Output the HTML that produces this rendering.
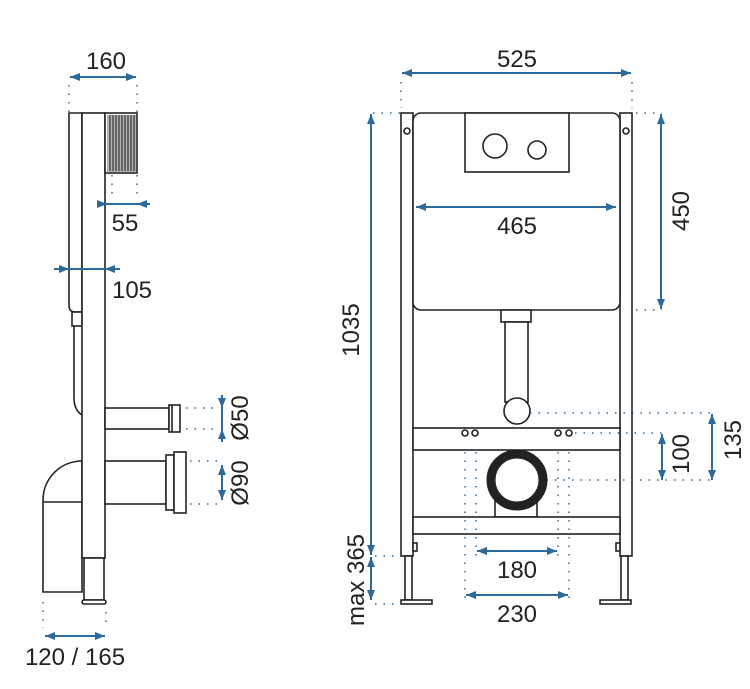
<!DOCTYPE html>
<html><head><meta charset="utf-8"><style>
html,body{margin:0;padding:0;background:#fff;}
svg{display:block;}
text{font-family:"Liberation Sans",sans-serif;fill:#222;}
</style></head><body>
<svg width="750" height="689" viewBox="0 0 750 689" xmlns="http://www.w3.org/2000/svg">
<defs>
<marker id="a" viewBox="0 0 10 10" refX="10" refY="5" markerWidth="5" markerHeight="5" orient="auto-start-reverse"><path d="M0,1 L10,5 L0,9 Z" fill="#2e6a99"/></marker>
</defs>
<!-- left view drawing -->
<g stroke="#222" stroke-width="1.6" fill="#fff">
<path d="M43,592 L43,500 A39,39 0 0 1 82,461 L82,592 Z"/>
<line x1="43" y1="502" x2="82" y2="502"/>
<path d="M69,113 L82,113 L82,312 L75,312 Q69,312 69,305 Z"/>
<rect x="72" y="312" width="10" height="14"/>
<path d="M74,326 L74,398 Q74,410 82,415" fill="none"/>
<rect x="82" y="113" width="23" height="445"/>
<rect x="84" y="558" width="20" height="42"/>
<rect x="82" y="600" width="24" height="4" rx="2"/>
<rect x="105" y="113" width="32" height="60"/>
<rect x="105" y="408" width="64" height="21"/>
<rect x="169" y="405" width="11" height="27"/>
<line x1="172" y1="405" x2="172" y2="432"/>
<rect x="105" y="461" width="61" height="43"/>
<rect x="166" y="455" width="8" height="55"/>
<rect x="174" y="452" width="12" height="61"/>
</g>
<rect x="107" y="115" width="29" height="57" fill="#555" opacity="0.45"/>
<g stroke="#333" stroke-width="1.2">
<line x1="110" y1="115" x2="110" y2="171"/><line x1="113" y1="115" x2="113" y2="171"/>
<line x1="116" y1="115" x2="116" y2="171"/><line x1="119" y1="115" x2="119" y2="171"/>
<line x1="122" y1="115" x2="122" y2="171"/><line x1="125" y1="115" x2="125" y2="171"/>
<line x1="128" y1="115" x2="128" y2="171"/><line x1="131" y1="115" x2="131" y2="171"/>
<line x1="134" y1="115" x2="134" y2="171"/>
</g>
<!-- right view drawing -->
<g stroke="#222" stroke-width="1.6" fill="#fff">
<rect x="401" y="113" width="12" height="443"/>
<rect x="620" y="113" width="12" height="443"/>
<rect x="405" y="556" width="7" height="44"/>
<rect x="621" y="556" width="7" height="44"/>
<rect x="401" y="600" width="31" height="4"/>
<rect x="600" y="600" width="31" height="4"/>
<rect x="413" y="543" width="4" height="8"/>
<rect x="616" y="543" width="4" height="8"/>
<circle cx="407" cy="131" r="3"/><circle cx="626" cy="131" r="3"/>
<rect x="413" y="113" width="207" height="197" rx="8"/>
<rect x="465" y="113" width="104" height="59"/>
<circle cx="495" cy="146" r="12"/><circle cx="537" cy="150" r="9"/>
<rect x="501" y="310" width="30" height="12"/>
<rect x="505" y="322" width="23" height="80"/>
<circle cx="517" cy="411" r="13"/>
<rect x="413" y="428" width="207" height="22"/>
<rect x="495" y="490" width="42" height="27"/>
<rect x="413" y="517" width="207" height="17"/>
<circle cx="465" cy="433" r="3"/><circle cx="475" cy="433" r="3"/>
<circle cx="558" cy="433" r="3"/><circle cx="569" cy="433" r="3"/>
</g>
<g stroke="#2e6a99" stroke-width="1.5" stroke-dasharray="1.5 7" fill="none">
<line x1="69" y1="85" x2="69" y2="112"/><line x1="137" y1="85" x2="137" y2="112"/>
<line x1="112" y1="175" x2="112" y2="200"/><line x1="137" y1="175" x2="137" y2="200"/>
<line x1="186" y1="408" x2="214" y2="408"/><line x1="186" y1="429" x2="214" y2="429"/>
<line x1="190" y1="461" x2="218" y2="461"/><line x1="190" y1="504" x2="218" y2="504"/>
<line x1="43" y1="602" x2="43" y2="628"/><line x1="106" y1="612" x2="106" y2="628"/>
<line x1="401" y1="82" x2="401" y2="108"/><line x1="632" y1="82" x2="632" y2="108"/>
<line x1="373" y1="113" x2="400" y2="113"/>
<line x1="636" y1="113" x2="662" y2="113"/><line x1="636" y1="310" x2="662" y2="310"/>
<line x1="530" y1="413" x2="715" y2="413"/>
<line x1="575" y1="433" x2="662" y2="433"/>
<line x1="538" y1="480" x2="715" y2="480"/>
<line x1="375" y1="556" x2="400" y2="556"/><line x1="375" y1="604" x2="400" y2="604"/>
<line x1="465" y1="452" x2="465" y2="600"/><line x1="476" y1="452" x2="476" y2="560"/>
<line x1="558" y1="452" x2="558" y2="560"/><line x1="569" y1="452" x2="569" y2="600"/>
</g>
<circle cx="517" cy="480" r="26" fill="#fff" stroke="#222" stroke-width="9"/>
<g stroke="#2e6a99" stroke-width="2" fill="none">
<line x1="70" y1="77" x2="136" y2="77" marker-start="url(#a)" marker-end="url(#a)"/>
<line x1="97" y1="204" x2="107" y2="204" marker-end="url(#a)"/>
<line x1="150" y1="204" x2="137" y2="204" marker-end="url(#a)"/>
<line x1="107" y1="204" x2="137" y2="204"/>
<line x1="54" y1="269" x2="69" y2="269" marker-end="url(#a)"/>
<line x1="120" y1="269" x2="105" y2="269" marker-end="url(#a)"/>
<line x1="69" y1="269" x2="105" y2="269"/>
<line x1="222" y1="395" x2="222" y2="408" marker-end="url(#a)"/>
<line x1="222" y1="442" x2="222" y2="429" marker-end="url(#a)"/>
<line x1="222" y1="408" x2="222" y2="429"/>
<line x1="222" y1="465" x2="222" y2="500" marker-start="url(#a)" marker-end="url(#a)"/>
<line x1="45" y1="636" x2="105" y2="636" marker-start="url(#a)" marker-end="url(#a)"/>
<line x1="402" y1="73" x2="631" y2="73" marker-start="url(#a)" marker-end="url(#a)"/>
<line x1="416" y1="207" x2="616" y2="207" marker-start="url(#a)" marker-end="url(#a)"/>
<line x1="661" y1="114" x2="661" y2="309" marker-start="url(#a)" marker-end="url(#a)"/>
<line x1="371" y1="114" x2="371" y2="555" marker-start="url(#a)" marker-end="url(#a)"/>
<line x1="371" y1="557" x2="371" y2="600" marker-start="url(#a)" marker-end="url(#a)"/>
<line x1="662" y1="434" x2="662" y2="480" marker-start="url(#a)" marker-end="url(#a)"/>
<line x1="712" y1="414" x2="712" y2="480" marker-start="url(#a)" marker-end="url(#a)"/>
<line x1="477" y1="551" x2="557" y2="551" marker-start="url(#a)" marker-end="url(#a)"/>
<line x1="466" y1="595" x2="568" y2="595" marker-start="url(#a)" marker-end="url(#a)"/>
</g>
<!-- labels -->
<g font-size="24">
<text x="106" y="69" text-anchor="middle">160</text>
<text x="125" y="231" text-anchor="middle">55</text>
<text x="132" y="298" text-anchor="middle">105</text>
<text x="75" y="665" text-anchor="middle">120 / 165</text>
<text x="517" y="67" text-anchor="middle">525</text>
<text x="517" y="234" text-anchor="middle">465</text>
<text x="517" y="578" text-anchor="middle">180</text>
<text x="517" y="622" text-anchor="middle">230</text>
<text transform="translate(248,418) rotate(-90)" text-anchor="middle">Ø50</text>
<text transform="translate(248,483) rotate(-90)" text-anchor="middle">Ø90</text>
<text transform="translate(689,211) rotate(-90)" text-anchor="middle">450</text>
<text transform="translate(359,330) rotate(-90)" text-anchor="middle">1035</text>
<text transform="translate(364,580) rotate(-90)" text-anchor="middle">max 365</text>
<text transform="translate(689,454) rotate(-90)" text-anchor="middle">100</text>
<text transform="translate(741,440) rotate(-90)" text-anchor="middle">135</text>
</g>
</svg>
</body></html>
